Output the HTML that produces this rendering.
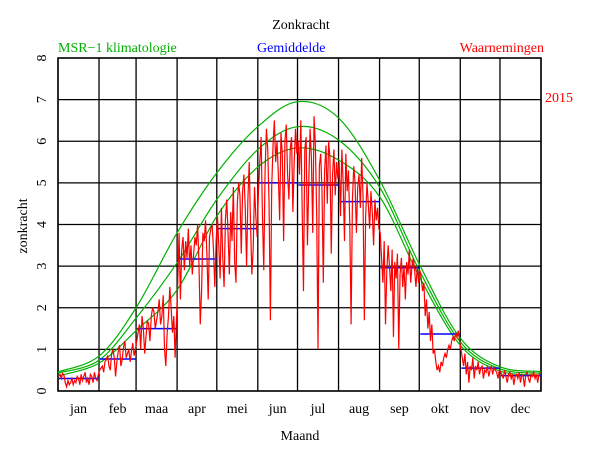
<!DOCTYPE html>
<html><head><meta charset="utf-8"><style>
body{margin:0;background:#fff;}
svg{display:block;font-family:"Liberation Serif",serif;}
</style></head><body>
<svg id="c" width="600" height="450" xmlns="http://www.w3.org/2000/svg">
<text x="301" y="29" text-anchor="middle" font-size="14" fill="#000">Zonkracht</text>
<text x="58" y="52" font-size="14" fill="#00b000">MSR−1 klimatologie</text>
<text x="257" y="52" font-size="14" fill="#0000ff">Gemiddelde</text>
<text x="544" y="52" text-anchor="end" font-size="14" fill="#ff0000">Waarnemingen</text>
<text x="545" y="102" font-size="14" fill="#ff0000">2015</text>
<text x="300" y="440" text-anchor="middle" font-size="14" fill="#000">Maand</text>
<text transform="translate(27,226) rotate(-90)" text-anchor="middle" font-size="14" fill="#000">zonkracht</text>
<g id="grid"></g><g id="green"></g><g id="blue"></g><g id="red"></g><g id="labels"></g>
</svg>
<script>
const months=["jan","feb","maa","apr","mei","jun","jul","aug","sep","okt","nov","dec"];
const monthStart=[0,31,59,90,120,151,181,212,243,273,304,334,365];
const yTicks=[0,1,2,3,4,5,6,7,8];
const climTop=[0.46,0.84,2.0,3.8,5.24,6.35,6.95,6.56,5.07,3.05,1.27,0.58,0.47];
const climMid=[0.43,0.74,1.75,3.08,4.6,5.8,6.35,6.03,4.9,2.9,1.18,0.53,0.43];
const climLow=[0.36,0.67,1.45,2.43,4.2,5.38,5.84,5.55,4.67,2.75,1.1,0.48,0.38];
const monthMean=[0.3,0.77,1.5,3.17,3.9,5.0,4.95,4.55,2.96,1.37,0.55,0.37];
const daily=[
0.35,0.4,0.3,0.42,0.38,0.2,0.1,0.25,0.15,0.2,0.3,0.15,0.25,0.2,0.35,0.3,0.15,0.4,0.25,0.35,0.45,0.2,0.3,0.15,0.4,0.35,0.2,0.45,0.3,0.25,0.4,
0.5,0.55,0.6,0.45,0.7,0.75,0.85,0.6,0.5,0.9,1.0,0.8,0.35,0.7,0.95,1.1,0.6,0.75,1.05,1.2,0.8,0.9,1.0,0.7,0.95,1.15,0.85,1.0,
1.2,1.4,1.6,1.0,1.8,1.5,0.9,1.3,1.7,1.6,1.2,1.8,2.0,1.9,1.5,1.7,1.9,2.2,1.6,1.8,2.3,1.0,0.6,1.4,1.8,2.5,2.0,1.4,1.8,0.8,1.7,
2.6,3.8,2.2,3.4,3.7,2.9,3.6,3.2,3.9,3.0,3.5,2.8,3.3,3.7,3.5,4.0,3.1,1.6,2.4,3.8,3.6,4.1,3.3,2.2,3.7,3.9,4.0,3.4,2.5,3.6,
4.2,3.5,2.7,4.4,3.2,2.5,4.1,4.6,3.8,2.8,4.3,3.6,4.9,3.1,2.6,4.5,5.0,4.7,3.3,4.8,5.2,4.4,3.0,4.6,5.5,4.0,2.8,3.4,4.9,4.2,3.7,
4.8,5.5,6.1,4.2,2.9,5.3,6.3,5.8,4.5,1.7,4.9,5.9,6.5,5.5,6.0,5.2,4.1,6.2,5.7,3.6,6.0,6.4,5.2,4.6,5.8,6.1,4.3,5.5,6.3,5.7,
6.0,5.2,6.5,4.4,2.4,5.8,6.1,3.5,5.0,6.3,5.6,3.8,6.6,5.9,4.2,1.0,5.4,5.7,4.8,2.6,5.3,5.9,4.5,6.0,5.6,3.3,5.2,5.8,4.7,5.5,5.1,
5.5,4.2,5.8,5.0,3.6,5.7,4.8,5.3,4.0,1.6,4.6,5.4,5.0,3.8,4.9,5.2,4.4,5.6,4.7,1.7,4.2,5.0,4.5,3.9,4.8,4.3,3.5,4.6,4.1,4.4,3.9,
3.8,3.2,2.6,3.6,1.6,2.9,3.5,3.0,2.4,3.4,1.3,3.1,2.7,3.3,1.0,2.8,3.2,2.5,3.0,2.2,3.1,2.8,3.4,2.6,3.0,3.2,2.9,2.5,3.0,2.6,
2.9,2.7,2.4,2.6,1.8,2.2,1.5,1.9,1.2,1.6,0.9,1.0,0.7,0.5,0.6,0.45,0.7,0.6,0.8,0.9,0.8,1.0,1.1,1.0,1.2,1.3,1.2,1.4,1.3,1.45,1.2,
1.0,0.8,0.6,0.9,0.4,0.7,0.2,0.6,0.5,0.8,0.3,0.6,0.5,0.7,0.4,0.55,0.6,0.3,0.5,0.45,0.6,0.35,0.5,0.6,0.4,0.55,0.5,0.45,0.3,0.5,
0.45,0.4,0.3,0.5,0.35,0.2,0.4,0.45,0.3,0.4,0.15,0.35,0.4,0.3,0.45,0.2,0.4,0.35,0.1,0.4,0.45,0.3,0.2,0.4,0.35,0.45,0.3,0.4,0.2,0.4,0.45];

const X0=58,X1=541,Y0=391,Y1=58;
const xs=d=>X0+d*(X1-X0)/365;
const ys=v=>Y0-v*(Y0-Y1)/8;
const NS="http://www.w3.org/2000/svg";
function mk(tag,parent){const e=document.createElementNS(NS,tag);document.getElementById(parent).appendChild(e);return e;}

let fr=mk('rect','grid');
fr.setAttribute('x',X0);fr.setAttribute('y',Y1);fr.setAttribute('width',X1-X0);fr.setAttribute('height',Y0-Y1);
fr.setAttribute('fill','none');fr.setAttribute('stroke','#000');fr.setAttribute('stroke-width','1.5');


yTicks.forEach(t=>{
  const l=mk('line','grid');
  l.setAttribute('x1',X0);l.setAttribute('x2',X1);l.setAttribute('y1',ys(t));l.setAttribute('y2',ys(t));
  l.setAttribute('stroke','#000');l.setAttribute('stroke-width','1.3');
  
  
  const tx=mk('text','labels');
  tx.setAttribute('transform','translate(46,'+ys(t)+') rotate(-90)');
  tx.setAttribute('text-anchor','middle');tx.setAttribute('font-size','14');
  tx.textContent=t;
  
  
});
monthStart.forEach((d,i)=>{
  const l=mk('line','grid');
  l.setAttribute('x1',xs(d));l.setAttribute('x2',xs(d));l.setAttribute('y1',Y1);l.setAttribute('y2',Y0);
  l.setAttribute('stroke','#000');l.setAttribute('stroke-width','1.3');
  
  
  if(i<12){
    const tx=mk('text','labels');
    tx.setAttribute('x',(xs(d)+xs(monthStart[i+1]))/2);tx.setAttribute('y',413);
    tx.setAttribute('text-anchor','middle');tx.setAttribute('font-size','14');
    tx.textContent=months[i];
    
    
  }
});
function curve(arr,name){
  const p=arr.map((v,i)=>[xs(monthStart[i]),ys(v)]);
  let d='M'+p[0][0]+','+p[0][1];
  for(let i=0;i<p.length-1;i++){
    const a=p[Math.max(0,i-1)],b=p[i],c=p[i+1],e=p[Math.min(p.length-1,i+2)];
    d+=' C'+(b[0]+(c[0]-a[0])/6)+','+(b[1]+(c[1]-a[1])/6)+' '+(c[0]-(e[0]-b[0])/6)+','+(c[1]-(e[1]-b[1])/6)+' '+c[0]+','+c[1];
  }
  const pa=mk('path','green');
  pa.setAttribute('d',d);pa.setAttribute('fill','none');pa.setAttribute('stroke','#00b000');pa.setAttribute('stroke-width','1.2');
  
  
}
curve(climTop,'climatology-upper');
curve(climMid,'climatology-middle');
curve(climLow,'climatology-lower');
monthMean.forEach((v,i)=>{
  const l=mk('line','blue');
  l.setAttribute('x1',xs(monthStart[i])+1);l.setAttribute('x2',xs(monthStart[i+1]));
  l.setAttribute('y1',ys(v));l.setAttribute('y2',ys(v));
  l.setAttribute('stroke','#0000ff');l.setAttribute('stroke-width','1.5');
  
  
});
const pl=mk('polyline','red');
pl.setAttribute('points',daily.map((v,i)=>xs(i+0.5)+','+ys(v)).join(' '));
pl.setAttribute('fill','none');pl.setAttribute('stroke','#ff0000');pl.setAttribute('stroke-width','1.2');


</script>
</body></html>
